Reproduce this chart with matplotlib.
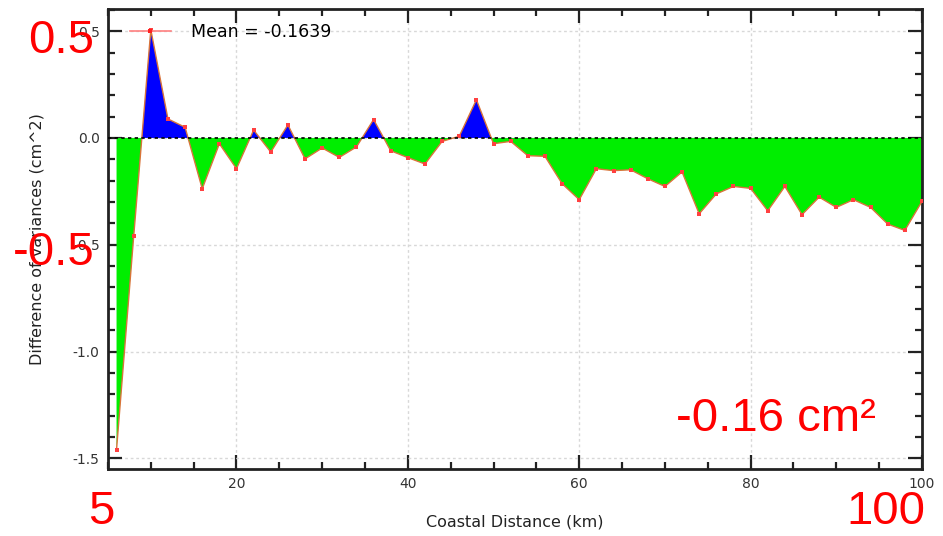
import matplotlib
matplotlib.use("Agg")
import matplotlib.pyplot as plt
import numpy as np
from matplotlib.ticker import MultipleLocator

distance_km = [6, 8, 10, 12, 14, 16, 18, 20, 22, 24, 26, 28, 30, 32, 34, 36,
               38, 40, 42, 44, 46, 48, 50, 52, 54, 56, 58, 60, 62, 64, 66, 68,
               70, 72, 74, 76, 78, 80, 82, 84, 86, 88, 90, 92, 94, 96, 98, 100]
variance_diff = [-1.459, -0.461, 0.507, 0.089, 0.050, -0.238, -0.027, -0.144,
                 0.037, -0.066, 0.061, -0.098, -0.047, -0.091, -0.042, 0.086,
                 -0.060, -0.092, -0.122, -0.016, 0.008, 0.179, -0.027, -0.016,
                 -0.083, -0.086, -0.214, -0.289, -0.144, -0.153, -0.149, -0.191,
                 -0.227, -0.159, -0.355, -0.262, -0.227, -0.236, -0.341, -0.227,
                 -0.359, -0.277, -0.325, -0.289, -0.325, -0.403, -0.433, -0.297]
mean_label = "Mean = -0.1639"
x_label = "Coastal Distance (km)"
y_label = "Difference of variances (cm^2)"
overlay_texts = ["0.5", "-0.5", "5", "100", "-0.16 cm²"]

x = np.array(distance_km)
y = np.array(variance_diff)

fig = plt.figure(figsize=(9.43, 5.36), dpi=100)
ax = fig.add_axes([0.1145, 0.125, 0.8632, 0.8587])

ax.fill_between(x, y, 0, where=y >= 0, interpolate=True, color="#0000ff", linewidth=0)
ax.fill_between(x, y, 0, where=y <= 0, interpolate=True, color="#00ee00", linewidth=0)
ax.plot(x, y, color="#d9743a", linewidth=1.0, zorder=3)
ax.plot(x, y, linestyle="none", marker="s", markersize=3.2, color="#ff4040",
        markeredgewidth=0, zorder=4)
ax.axhline(0, color="black", linestyle=(0, (2, 2)), linewidth=1.2, zorder=5)

handle, = ax.plot([], [], color="#ff8080", linewidth=1.2, marker="s",
                  markersize=3.5, markerfacecolor="#ff2020", markeredgewidth=0)
ax.legend([handle], [mean_label], loc="upper left", frameon=False,
          fontsize=12.5, handlelength=2.35, numpoints=1, handletextpad=1.15,
          borderaxespad=0.5, borderpad=0.3, bbox_to_anchor=(0.01, 1.0))

ax.set_xlim(5, 100)
ax.set_ylim(-1.55, 0.605)
ax.xaxis.set_major_locator(MultipleLocator(20))
ax.xaxis.set_minor_locator(MultipleLocator(5))
ax.yaxis.set_major_locator(MultipleLocator(0.5))
ax.yaxis.set_minor_locator(MultipleLocator(0.1))
ax.yaxis.set_major_formatter(matplotlib.ticker.FormatStrFormatter("%.1f"))
ax.tick_params(which="both", direction="in", top=True, right=True,
               labelsize=10, labelcolor="#333333", color="#222222", width=1.6)
ax.tick_params(which="major", length=10, pad=6)
ax.tick_params(which="minor", length=5)
for s in ax.spines.values():
    s.set_linewidth(2.0)
    s.set_color("#222222")
ax.grid(True, which="major", color="#d8d8d8", linestyle=(0, (2, 2)), linewidth=1)
ax.set_axisbelow(True)

ax.set_xlabel(x_label, fontsize=11.5, color="#222222", labelpad=17)
ax.set_ylabel(y_label, fontsize=11.5, color="#222222", labelpad=20)

W, H = 943, 536
positions = [(28, 536 - 53), (13, 536 - 265), (88, 536 - 524), (846, 536 - 524), (676, 536 - 431)]
for txt, (px, py) in zip(overlay_texts, positions):
    fig.text(px / W, py / H, txt, color="red", fontsize=34, family="Liberation Sans",
             ha="left", va="baseline", zorder=10)

fig.savefig("out.png", dpi=100)
